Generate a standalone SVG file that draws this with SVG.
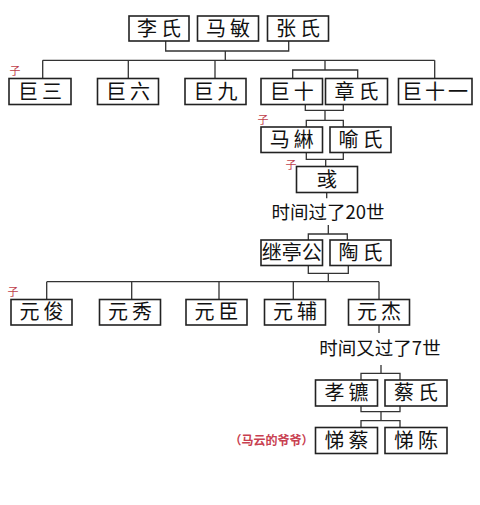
<svg xmlns="http://www.w3.org/2000/svg" width="480" height="505" viewBox="0 0 480 505">
<style>
.b{fill:#fff;stroke:#222;stroke-width:1.6}
.t{font-family:"Noto Sans CJK SC","Noto Sans",sans-serif;font-size:20px;fill:#111;text-anchor:middle;letter-spacing:4px}
.t3{letter-spacing:0}
.c path{fill:none;stroke:#333;stroke-width:1.3}
.z{font-family:"Noto Sans CJK SC",sans-serif;font-size:11px;fill:#c0404a;text-anchor:middle}
.g{font-family:"Noto Sans CJK SC","Noto Sans",sans-serif;font-size:18.5px;fill:#111;text-anchor:middle}
.r{font-family:"Noto Sans CJK SC",sans-serif;font-size:12px;font-weight:bold;fill:#c84050;text-anchor:middle}
</style>
<rect width="480" height="505" fill="#fff"/>
<g class="c" id="connectors">
<path d="M165.7 41 V51 H288.7 V41 M225.3 51 V60.3 M42.7 60.3 H434.7 M42.7 60.3 V78.5 M128.3 60.3 V78.5 M215 60.3 V78.5 M434.7 60.3 V78.5 M325 60.3 V70 M292.7 78.5 V70 H357.7 V78.5"/>
<path d="M305.3 104.5 V110.3 H343.3 V104.5 M325 110.3 V120.3 M306.3 127 V120.3 H343.3 V127"/>
<path d="M306.3 152.5 V159.3 H343.3 V152.5 M325.7 159.3 V166.5 M326.7 192.5 V198.3"/>
<path d="M328.3 225 V234 M308.3 240 V234 H347.3 V240"/>
<path d="M308.3 265.5 V273.3 H348.3 V265.5 M328.3 273.3 V281.7 M46.7 281.7 H379 M46.7 281.7 V299.5 M131.7 281.7 V299.5 M219 281.7 V299.5 M293.3 281.7 V299.5 M379 281.7 V299.5 M379 325 V333"/>
<path d="M381 365 V373.3 M361 380 V373.3 H400 V380 M361 406 V411.7 H400 V406 M381 411.7 V420.7 M361 427.5 V420.7 H400 V427.5"/>
</g>
<g id="n-li"><rect class="b" x="129" y="16" width="60" height="25"/><text class="t" x="161" y="35.8">李氏</text></g>
<g id="n-mamin"><rect class="b" x="197.5" y="16" width="61" height="25"/><text class="t" x="230" y="35.8">马敏</text></g>
<g id="n-zhang"><rect class="b" x="267.5" y="16" width="61" height="25"/><text class="t" x="300" y="35.8">张氏</text></g>
<g id="n-jusan"><rect class="b" x="9" y="78.5" width="62" height="26"/><text class="t" x="42" y="98.8">巨三</text></g>
<g id="n-juliu"><rect class="b" x="97.5" y="78.5" width="61" height="26"/><text class="t" x="130" y="98.8">巨六</text></g>
<g id="n-jujiu"><rect class="b" x="185" y="78.5" width="61" height="26"/><text class="t" x="217.5" y="98.8">巨九</text></g>
<g id="n-jushi"><rect class="b" x="261" y="78.5" width="61.5" height="26"/><text class="t" x="293.7" y="98.8">巨十</text></g>
<g id="n-zhangshi"><rect class="b" x="325.5" y="78.5" width="62" height="26"/><text class="t" x="358.5" y="98.8">章氏</text></g>
<g id="n-jushiyi"><rect class="b" x="398.5" y="78.5" width="73.5" height="26"/><text class="t" x="436.5" y="98.8" style="letter-spacing:3px">巨十一</text></g>
<g id="n-machen"><rect class="b" x="261" y="127" width="61.5" height="25.5"/><text class="t" x="293.7" y="146.8">马綝</text></g>
<g id="n-yu"><rect class="b" x="330" y="127" width="61" height="25.5"/><text class="t" x="362.5" y="146.8">喻氏</text></g>
<g id="n-yu2"><rect class="b" x="296.5" y="166.5" width="61" height="26"/><text class="t t3" x="327" y="186.8">彧</text></g>
<text class="g" x="328" y="219">时间过了20世</text>
<g id="n-jiting"><rect class="b" x="261" y="240" width="61.5" height="25.5"/><text class="t t3" x="291.7" y="259.8">继亭公</text></g>
<g id="n-tao"><rect class="b" x="330" y="240" width="61" height="25.5"/><text class="t" x="362.5" y="259.8">陶氏</text></g>
<g id="n-yuanjun"><rect class="b" x="11" y="299.5" width="61" height="25.5"/><text class="t" x="43.5" y="319.3">元俊</text></g>
<g id="n-yuanxiu"><rect class="b" x="99.5" y="299.5" width="61" height="25.5"/><text class="t" x="132" y="319.3">元秀</text></g>
<g id="n-yuanchen"><rect class="b" x="186" y="299.5" width="61" height="25.5"/><text class="t" x="218.5" y="319.3">元臣</text></g>
<g id="n-yuanfu"><rect class="b" x="264.5" y="299.5" width="61" height="25.5"/><text class="t" x="297" y="319.3">元辅</text></g>
<g id="n-yuanjie"><rect class="b" x="348.5" y="299.5" width="61" height="25.5"/><text class="t" x="381" y="319.3">元杰</text></g>
<text class="g" x="380" y="355">时间又过了7世</text>
<g id="n-xiaobiao"><rect class="b" x="315.5" y="380" width="62" height="26"/><text class="t" x="348.5" y="400.3">孝镳</text></g>
<g id="n-cai"><rect class="b" x="385" y="380" width="62" height="26"/><text class="t" x="418" y="400.3">蔡氏</text></g>
<g id="n-ticai"><rect class="b" x="315.5" y="427.5" width="62" height="26"/><text class="t" x="348.5" y="447.8">悌蔡</text></g>
<g id="n-tichen"><rect class="b" x="385" y="427.5" width="62" height="26"/><text class="t" x="418" y="447.8">悌陈</text></g>
<text class="r" x="271.5" y="445">（马云的爷爷）</text>
<text class="z" x="15" y="75">子</text>
<text class="z" x="263" y="124">子</text>
<text class="z" x="291" y="169">子</text>
<text class="z" x="13" y="296">子</text>
</svg>
